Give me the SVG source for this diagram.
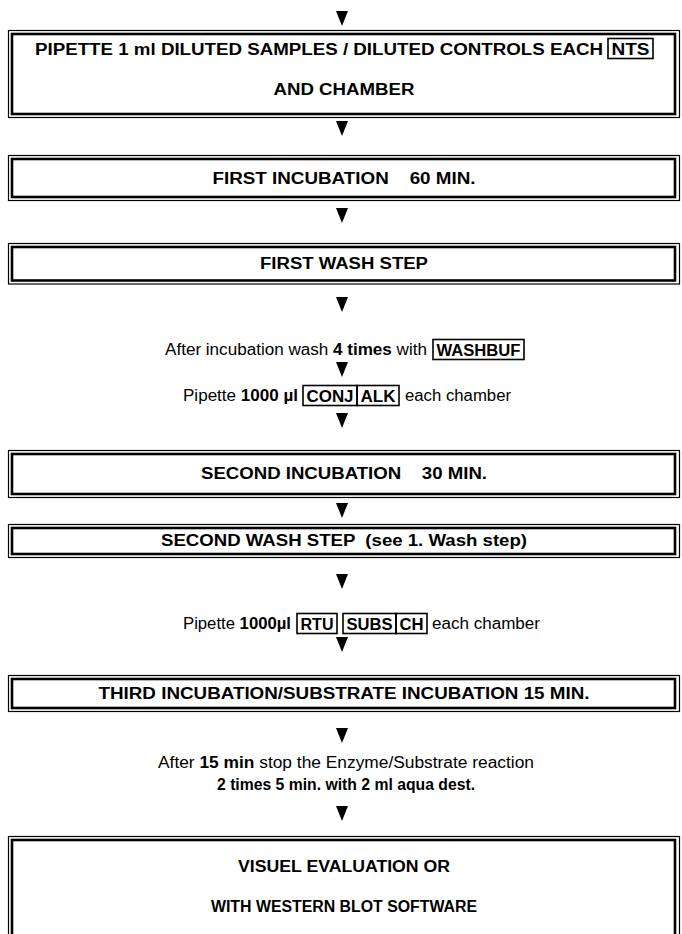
<svg xmlns="http://www.w3.org/2000/svg" width="682" height="934" viewBox="0 0 682 934">
<defs>
<style>
.o{fill:none;stroke:#000;stroke-width:1.2}
.i{fill:none;stroke:#000;stroke-width:2.6}
.b{font-family:'Liberation Sans',Arial,sans-serif;font-weight:bold;font-size:16px;fill:#000}
.r{font-family:'Liberation Sans',Arial,sans-serif;font-size:16px;fill:#000}
.m{text-anchor:middle}
.chip{fill:none;stroke:#000;stroke-width:1.6}
.a{fill:#000}
</style>
<path id="tri" d="M-6,0 L6,0 L0,15 Z"/>
</defs>
<g id="connectors">
<use href="#tri" class="a" x="342" y="11"/>
<use href="#tri" class="a" x="342" y="121"/>
<use href="#tri" class="a" x="342" y="208"/>
<use href="#tri" class="a" x="342" y="297"/>
<use href="#tri" class="a" x="342" y="362"/>
<use href="#tri" class="a" x="342" y="413"/>
<use href="#tri" class="a" x="342" y="503"/>
<use href="#tri" class="a" x="342" y="574"/>
<use href="#tri" class="a" x="342" y="637"/>
<use href="#tri" class="a" x="342" y="728"/>
<use href="#tri" class="a" x="342" y="806"/>
</g>
<g id="box1">
<rect class="o" x="8.5" y="30.5" width="671" height="87"/>
<rect class="i" x="12" y="34" width="663" height="80"/>
<text class="b" x="35" y="55" textLength="568" lengthAdjust="spacingAndGlyphs">PIPETTE 1 ml DILUTED SAMPLES / DILUTED CONTROLS EACH</text>
<rect class="chip" x="608" y="38.5" width="45" height="20"/>
<text class="b m" x="630.5" y="55" textLength="38" lengthAdjust="spacingAndGlyphs">NTS</text>
<text class="b m" x="344" y="95" textLength="141" lengthAdjust="spacingAndGlyphs">AND CHAMBER</text>
</g>
<g id="box2">
<rect class="o" x="8.5" y="155.5" width="671" height="45"/>
<rect class="i" x="12" y="159" width="663" height="38"/>
<text class="b m" x="344" y="184" textLength="263" lengthAdjust="spacingAndGlyphs" xml:space="preserve">FIRST INCUBATION    60 MIN.</text>
</g>
<g id="box3">
<rect class="o" x="8.5" y="243.5" width="671" height="40.5"/>
<rect class="i" x="12" y="247" width="663" height="33.5"/>
<text class="b m" x="344" y="269" textLength="168" lengthAdjust="spacingAndGlyphs">FIRST WASH STEP</text>
</g>
<g id="step-wash">
<text class="r" x="165" y="355" textLength="262" lengthAdjust="spacingAndGlyphs">After incubation wash <tspan font-weight="bold">4 times</tspan> with</text>
<rect class="chip" x="433" y="339.5" width="91" height="20"/>
<text class="b m" x="478.5" y="356" textLength="84" lengthAdjust="spacingAndGlyphs">WASHBUF</text>
</g>
<g id="step-conj">
<text class="r" x="183" y="401" textLength="115" lengthAdjust="spacingAndGlyphs">Pipette <tspan font-weight="bold">1000 µl</tspan></text>
<rect class="chip" x="303" y="385.5" width="54" height="20"/>
<text class="b m" x="330" y="402" textLength="47" lengthAdjust="spacingAndGlyphs">CONJ</text>
<rect class="chip" x="357" y="385.5" width="42" height="20"/>
<text class="b m" x="378" y="402" textLength="35" lengthAdjust="spacingAndGlyphs">ALK</text>
<text class="r" x="405" y="401" textLength="106" lengthAdjust="spacingAndGlyphs">each chamber</text>
</g>
<g id="box4">
<rect class="o" x="8.5" y="450.5" width="671" height="47"/>
<rect class="i" x="12" y="454" width="663" height="40"/>
<text class="b m" x="344" y="479" textLength="286" lengthAdjust="spacingAndGlyphs" xml:space="preserve">SECOND INCUBATION    30 MIN.</text>
</g>
<g id="box5">
<rect class="o" x="8.5" y="524.5" width="671" height="33"/>
<rect class="i" x="12" y="528" width="663" height="26"/>
<text class="b m" x="344" y="546" textLength="366" lengthAdjust="spacingAndGlyphs" xml:space="preserve">SECOND WASH STEP  (see 1. Wash step)</text>
</g>
<g id="step-subs">
<text class="r" x="183" y="629" textLength="108" lengthAdjust="spacingAndGlyphs">Pipette <tspan font-weight="bold">1000µl</tspan></text>
<rect class="chip" x="297" y="613.5" width="40" height="20"/>
<text class="b m" x="317" y="630" textLength="33" lengthAdjust="spacingAndGlyphs">RTU</text>
<rect class="chip" x="343" y="613.5" width="53" height="20"/>
<text class="b m" x="369.5" y="630" textLength="46" lengthAdjust="spacingAndGlyphs">SUBS</text>
<rect class="chip" x="396" y="613.5" width="31" height="20"/>
<text class="b m" x="411.5" y="630" textLength="24" lengthAdjust="spacingAndGlyphs">CH</text>
<text class="r" x="432" y="629" textLength="108" lengthAdjust="spacingAndGlyphs">each chamber</text>
</g>
<g id="box6">
<rect class="o" x="8.5" y="675.5" width="671" height="36"/>
<rect class="i" x="12" y="679" width="663" height="29"/>
<text class="b m" x="344" y="699" textLength="491" lengthAdjust="spacingAndGlyphs">THIRD INCUBATION/SUBSTRATE INCUBATION 15 MIN.</text>
</g>
<g id="step-stop">
<text class="r m" x="346" y="768" textLength="376" lengthAdjust="spacingAndGlyphs">After <tspan font-weight="bold">15 min</tspan> stop the Enzyme/Substrate reaction</text>
<text class="b m" x="346" y="790" textLength="258" lengthAdjust="spacingAndGlyphs">2 times 5 min. with 2 ml aqua dest.</text>
</g>
<g id="box7">
<rect class="o" x="8.5" y="836.5" width="671" height="120"/>
<rect class="i" x="12" y="840" width="663" height="120"/>
<text class="b m" x="344" y="872" textLength="212" lengthAdjust="spacingAndGlyphs">VISUEL EVALUATION OR</text>
<text class="b m" x="344" y="912" textLength="266" lengthAdjust="spacingAndGlyphs">WITH WESTERN BLOT SOFTWARE</text>
</g>
</svg>
